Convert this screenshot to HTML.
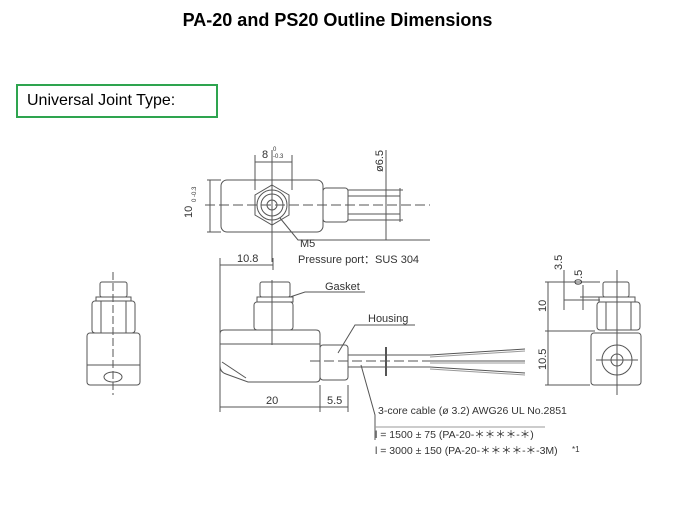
<!DOCTYPE html>
<html><head><meta charset="utf-8"><style>
body{margin:0;width:675px;height:506px;background:#fff;overflow:hidden;font-family:"Liberation Sans",sans-serif;position:relative}
.t{position:absolute;left:0;width:675px;top:10px;text-align:center;font-weight:bold;font-size:18px}
.b{position:absolute;left:16px;top:84px;width:198px;height:30px;border:2px solid #2ea44f;font-size:16px;line-height:30px;padding-left:9px;box-sizing:content-box;width:189px}
svg{position:absolute;left:0;top:0}
</style></head><body>
<div class="t">PA-20 and PS20 Outline Dimensions</div>
<div class="b">Universal Joint Type:</div>
<svg width="675" height="506" font-family="Liberation Sans, sans-serif" fill="none" stroke="#555" stroke-width="1">
<!-- top view -->
<rect x="221" y="180" width="102" height="52" rx="6"/>
<rect x="323" y="188" width="25" height="34" rx="3"/>
<line x1="348" y1="190" x2="403" y2="190"/><line x1="348" y1="220" x2="403" y2="220"/>
<line x1="348" y1="196" x2="400" y2="196"/><line x1="348" y1="214" x2="400" y2="214"/>
<line x1="400" y1="188" x2="400" y2="222"/>
<line x1="205" y1="205" x2="430" y2="205" stroke-dasharray="10,4"/>
<polygon points="272,185 289,195 289,215 272,225 255,215 255,195"/>
<circle cx="272" cy="205" r="15"/><circle cx="272" cy="205" r="11"/><circle cx="272" cy="205" r="5"/>
<line x1="272" y1="150" x2="272" y2="262"/>
<line x1="255" y1="155" x2="255" y2="190"/><line x1="292" y1="155" x2="292" y2="190"/>
<line x1="255" y1="162" x2="292" y2="162"/>
<line x1="386" y1="150" x2="386" y2="240"/>
<line x1="207" y1="180" x2="221" y2="180"/><line x1="207" y1="232" x2="221" y2="232"/>
<line x1="210" y1="180" x2="210" y2="232"/>
<polyline points="280,218 298,240 430,240"/>
<!-- side view -->
<rect x="260" y="282" width="30" height="15" rx="2"/>
<rect x="257" y="297" width="36" height="5"/>
<rect x="254" y="302" width="39" height="28" rx="3"/>
<path d="M224,330 H316 Q320,330 320,334 V378 Q320,382 316,382 H248 L226,374 Q220,372 220,366 V334 Q220,330 224,330 Z"/>
<line x1="220" y1="344" x2="320" y2="344"/>
<path d="M222,362 L246,378"/>
<rect x="320" y="345" width="28" height="35" rx="3"/>
<line x1="348" y1="355" x2="430" y2="355"/><line x1="348" y1="367" x2="430" y2="367"/>
<line x1="386" y1="347" x2="386" y2="376" stroke-width="2"/>
<path d="M430,355 L525,349 M430,361 L525,361 M430,367 L525,373"/>
<path d="M430,357 L525,351 M430,363 L525,363 M430,369 L525,375" stroke="#999"/>
<line x1="272" y1="280" x2="272" y2="345"/>
<line x1="310" y1="361" x2="430" y2="361" stroke-dasharray="10,4"/>
<line x1="220" y1="258" x2="220" y2="412"/><line x1="273" y1="258" x2="273" y2="270"/>
<line x1="220" y1="265" x2="273" y2="265"/>
<line x1="320" y1="385" x2="320" y2="412"/><line x1="348" y1="385" x2="348" y2="412"/>
<line x1="220" y1="407" x2="348" y2="407"/>
<polyline points="290,297 305,292 365,292"/>
<polyline points="338,353 355,325 415,325"/>
<polyline points="361,365 375,415 375,440"/>
<line x1="375" y1="427" x2="545" y2="427" stroke="#999"/>
<!-- right view -->
<rect x="603" y="282" width="26" height="15" rx="2"/>
<rect x="599" y="297" width="36" height="5"/>
<rect x="597" y="302" width="43" height="28" rx="3"/>
<line x1="606" y1="302" x2="606" y2="330"/><line x1="631" y1="302" x2="631" y2="330"/>
<rect x="591" y="333" width="50" height="52" rx="3"/>
<circle cx="617" cy="360" r="15"/><circle cx="617" cy="360" r="6"/>
<line x1="617" y1="270" x2="617" y2="395"/><line x1="596" y1="360" x2="638" y2="360"/>
<line x1="548" y1="282" x2="548" y2="385"/>
<line x1="545" y1="282" x2="600" y2="282"/><line x1="545" y1="331" x2="595" y2="331"/><line x1="545" y1="385" x2="590" y2="385"/>
<line x1="564" y1="270" x2="564" y2="310"/><line x1="564" y1="300" x2="600" y2="300"/>
<line x1="583" y1="285" x2="583" y2="310"/><line x1="580" y1="297" x2="600" y2="297"/>
<!-- left view -->
<rect x="100" y="282" width="27" height="15" rx="2"/>
<rect x="96" y="297" width="35" height="4"/>
<rect x="92" y="301" width="43" height="32" rx="3"/>
<line x1="101" y1="301" x2="101" y2="333"/><line x1="126" y1="301" x2="126" y2="333"/>
<rect x="87" y="333" width="53" height="52" rx="3"/>
<line x1="87" y1="365" x2="140" y2="365"/>
<ellipse cx="113" cy="377" rx="9" ry="5"/>
<line x1="113" y1="272" x2="113" y2="395" stroke-dasharray="8,3"/>
<g fill="#333" stroke="none" font-size="11">
<text x="262" y="158">8</text><text x="273" y="151" font-size="6">0</text><text x="273" y="158" font-size="6">-0.3</text>
<text transform="translate(192,218) rotate(-90)">10</text><text transform="translate(196,202) rotate(-90)" font-size="6">0 -0.3</text>
<text transform="translate(383,172) rotate(-90)">ø6.5</text>
<text x="300" y="247">M5</text>
<text x="298" y="263">Pressure port：SUS 304</text>
<text x="237" y="262">10.8</text>
<text x="325" y="290">Gasket</text>
<text x="368" y="322">Housing</text>
<text x="266" y="404">20</text>
<text x="327" y="404">5.5</text>
<text x="378" y="414" font-size="10.5">3-core cable  (ø 3.2) AWG26  UL No.2851</text>
<text x="375" y="438" font-size="10.5">l = 1500 ± 75 (PA-20-＊＊＊＊-＊)</text>
<text x="375" y="454" font-size="10.5">l = 3000 ± 150 (PA-20-＊＊＊＊-＊-3M)</text>
<text x="572" y="452" font-size="8">*1</text>
<text transform="translate(546,312) rotate(-90)">10</text>
<text transform="translate(546,370) rotate(-90)">10.5</text>
<text transform="translate(562,270) rotate(-90)">3.5</text>
<text transform="translate(582,285) rotate(-90)">0.5</text>
</g>
</svg>
</body></html>
